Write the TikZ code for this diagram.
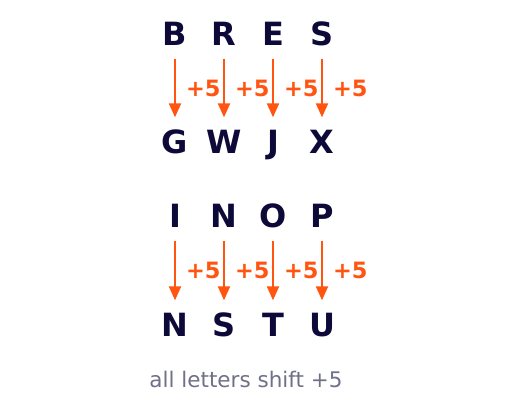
\documentclass[tikz,border=0pt]{standalone}
\usepackage{fontspec}
\setmainfont{DejaVu Sans}
\usetikzlibrary{arrows.meta}
\definecolor{ink}{HTML}{0D0A3A}
\definecolor{shiftc}{HTML}{FF5511}
\definecolor{notec}{HTML}{707088}
\begin{document}
\begin{tikzpicture}[x=1pt,y=-1pt,auto,
    letter/.style={font=\fontsize{32}{32}\selectfont\bfseries,text=ink,
      inner sep=0pt,text height=23pt,text depth=0pt},
    shiftarr/.style={draw=shiftc,line width=2.2pt,shorten <=13pt,shorten >=13pt,
      -{Triangle[width=12pt,length=14pt]}},
    amt/.style={font=\fontsize{22.5}{22.5}\selectfont\bfseries,text=shiftc,inner xsep=10pt}]
        \useasboundingbox (0,0) rectangle (520,412);
        \node[letter] (B) at (175,34) {B};
        \node[letter] (R) at (224,34) {R};
        \node[letter] (E) at (273,34) {E};
        \node[letter] (S) at (322,34) {S};
        \node[letter] (G) at (175,142) {G};
        \node[letter] (W) at (224,142) {W};
        \node[letter] (J) at (273,142) {J};
        \node[letter] (X) at (322,142) {X};
        \draw[shiftarr] (B) -- node[amt] {+5} (G);
        \draw[shiftarr] (R) -- node[amt] {+5} (W);
        \draw[shiftarr] (E) -- node[amt] {+5} (J);
        \draw[shiftarr] (S) -- node[amt] {+5} (X);
        \node[letter] (I) at (175,216) {I};
        \node[letter] (N) at (224,216) {N};
        \node[letter] (O) at (273,216) {O};
        \node[letter] (P) at (322,216) {P};
        \node[letter] (N2) at (175,325) {N};
        \node[letter] (S2) at (224,325) {S};
        \node[letter] (T) at (273,325) {T};
        \node[letter] (U) at (322,325) {U};
        \draw[shiftarr] (I) -- node[amt] {+5} (N2);
        \draw[shiftarr] (N) -- node[amt] {+5} (S2);
        \draw[shiftarr] (O) -- node[amt] {+5} (T);
        \draw[shiftarr] (P) -- node[amt] {+5} (U);
        \node[font=\fontsize{21.5}{21.5}\selectfont,text=notec] (note) at (246,379) {all letters shift +5};
      \end{tikzpicture}
\end{document}
